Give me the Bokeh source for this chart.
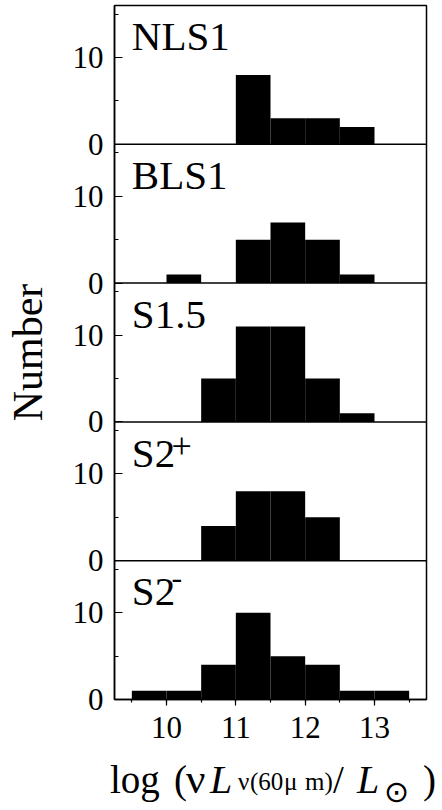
from bokeh.plotting import figure
from bokeh.layouts import column
from bokeh.models import FixedTicker, Span, Div
from bokeh.embed import file_html
from bokeh.resources import INLINE
from bokeh.core.properties import value

# ---- data ----
bin_left = [9.5, 10.0, 10.5, 11.0, 11.5, 12.0, 12.5, 13.0]
bin_right = [10.0, 10.5, 11.0, 11.5, 12.0, 12.5, 13.0, 13.5]
nls1 = [0, 0, 0, 8, 3, 3, 2, 0]
bls1 = [0, 1, 0, 5, 7, 5, 1, 0]
s15 = [0, 0, 5, 11, 11, 5, 1, 0]
s2_plus = [0, 0, 4, 8, 8, 5, 0, 0]
s2_minus = [1, 1, 4, 10, 5, 4, 1, 1]
panel_names = ["NLS1", "BLS1", "S1.5", "S2", "S2"]
panel_sups = ["", "", "", "+", "-"]
x_major_ticks = [10, 11, 12, 13]
x_minor_ticks = [9.5, 10.0, 10.5, 11.0, 11.5, 12.0, 12.5, 13.0, 13.5]
y_major_ticks = [0, 10]
y_minor_ticks = [5, 15]
panel_max = 16

panels = [nls1, bls1, s15, s2_plus, s2_minus]
n = len(panels)

FONT = "Liberation Serif"
X0, X1 = 9.25, 13.75
FW, FH = 312, 694
BL, BR, BT, BB = 114, 10, 5, 54
FL, FT = BL, BT           # frame left / top on page
FB = FT + FH
YMAX = panel_max * n
PPU = FH / YMAX
W = BL + FW + BR
H1 = BT + FH + BB
H2 = 56

p = figure(frame_width=FW, frame_height=FH, x_range=(X0, X1), y_range=(0, YMAX),
           output_backend="svg", toolbar_location=None,
           min_border_left=BL, min_border_right=BR, min_border_top=BT, min_border_bottom=BB)


def X(px):
    return X0 + (px - FL) * (X1 - X0) / FW


SHIFT = 0.42  # baseline correction (em)

# bars
for i, counts in enumerate(panels):
    off = (n - 1 - i) * panel_max
    L = [l for l, c in zip(bin_left, counts) if c > 0]
    R = [r for r, c in zip(bin_right, counts) if c > 0]
    T = [off + c for c in counts if c > 0]
    p.quad(left=L, right=R, bottom=[off] * len(L), top=T, fill_color="black", line_color=None)

# separators (zero lines)
for k in range(1, n):
    p.add_layout(Span(location=k * panel_max, dimension="width", line_color="black", line_width=1.5))

# panel labels
for i, (name, sup) in enumerate(zip(panel_names, panel_sups)):
    off = (n - 1 - i) * panel_max
    top = off + panel_max
    p.text(x=[9.5], y=[top - (48 - SHIFT * 41) / PPU], text=[name], text_font=value(FONT),
           text_font_size="41px", text_baseline="alphabetic", text_align="left", text_color="black")
    if sup == "+":
        p.text(x=[X(171)], y=[top - (39 - SHIFT * 36) / PPU], text=[sup], text_font=value(FONT),
               text_font_size="36px", text_baseline="alphabetic", text_align="left", text_color="black")
    elif sup == "-":
        p.text(x=[X(171)], y=[top - (30 - SHIFT * 32) / PPU], text=[sup], text_font=value(FONT),
               text_font_size="32px", text_baseline="alphabetic", text_align="left", text_color="black")

# y axis
maj, mino, over = [], [], {}
for k in range(n):
    off = k * panel_max
    for t in y_major_ticks:
        maj.append(off + t)
        over[off + t] = str(t)
    for t in y_minor_ticks:
        mino.append(off + t)
p.yaxis.ticker = FixedTicker(ticks=maj, minor_ticks=mino)
p.yaxis.major_label_overrides = over
p.yaxis.major_tick_in = 8
p.yaxis.major_tick_out = 0
p.yaxis.minor_tick_in = 4
p.yaxis.minor_tick_out = 0
p.yaxis.major_label_standoff = 11
p.yaxis.axis_label = "Number"
p.yaxis.axis_label_text_font = FONT
p.yaxis.axis_label_text_font_size = "42px"
p.yaxis.axis_label_text_font_style = "normal"
p.yaxis.axis_label_text_color = "black"
p.yaxis.axis_label_standoff = 19

# x axis
p.xaxis.ticker = FixedTicker(ticks=x_major_ticks, minor_ticks=x_minor_ticks)
p.xaxis.major_tick_in = 0
p.xaxis.major_tick_out = 6
p.xaxis.minor_tick_in = 0
p.xaxis.minor_tick_out = 3
p.xaxis.major_label_standoff = 11

for ax in (p.xaxis, p.yaxis):
    ax.major_label_text_font = FONT
    ax.major_label_text_font_size = "31px"
    ax.major_label_text_color = "black"
    ax.axis_line_color = "black"
    ax.axis_line_width = 1.5
    ax.major_tick_line_color = "black"
    ax.minor_tick_line_color = "black"
    ax.major_tick_line_width = 1.2
    ax.minor_tick_line_width = 1.2

p.xgrid.visible = False
p.ygrid.visible = False
p.outline_line_color = "black"
p.outline_line_width = 1.5
p.background_fill_color = "white"
p.border_fill_color = "white"

# ---- x-axis title: log ( nu L_nu(60um) / L_sun ) as positioned text pieces ----
B = 793
SB = 790
LS = (FONT, 0.891, 0.216)
DJ = ("DejaVu Sans", 0.928, 0.236)
pieces = [
    ("log", 110, B, 39, "normal", LS),
    ("(", 174, B, 39, "normal", LS),
    ("ν", 186, B, 43, "normal", LS),
    ("L", 210, B, 40, "italic", LS),
    ("ν", 238, SB, 25, "normal", LS),
    ("(60", 250, SB, 25, "normal", LS),
    ("μ", 284, SB, 25, "normal", LS),
    ("m)", 305, SB, 25, "normal", LS),
    ("/", 333, B, 39, "normal", LS),
    ("L", 357, B, 40, "italic", LS),
    ("⊙", 384, 802, 30, "normal", DJ),
    (")", 423, B, 39, "normal", LS),
]
spans = []
for txt, px, py, size, style, (font, asc, desc) in pieces:
    base_off = ((1.0 - (asc + desc)) / 2 + asc) * size   # baseline below box top (line-height 1)
    top = py - H1 - base_off
    spans.append(
        f'<span style="position:absolute;left:{px}px;top:{top:.1f}px;'
        f"font-family:'{font}';font-size:{size}px;line-height:1;font-style:{style};"
        f'white-space:nowrap;color:#000;">{txt}</span>'
    )
title_html = (f'<div style="position:relative;width:{W}px;height:{H2}px;margin:0;padding:0;">'
              + "".join(spans) + "</div>")
title = Div(text=title_html, width=W, height=H2, margin=0)

layout = column(p, title, spacing=0)
open("out.html", "w").write(file_html(layout, INLINE))
